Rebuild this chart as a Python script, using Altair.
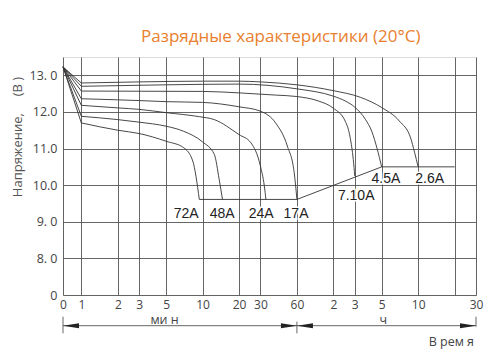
import altair as alt
import pandas as pd

# ---- data (time in minutes, voltage in V) ----
T0 = 0.706  # position of "0" on the log time axis

series_names = ["2.6A", "4.5A", "7.10A", "17A", "24A", "48A", "72A"]

t_26 = [0, 1, 3, 10, 20, 30, 60, 120, 200, 300, 420, 520, 560, 600]
v_26 = [13.23, 12.79, 12.82, 12.84, 12.84, 12.82, 12.74, 12.58, 12.40, 12.12, 11.75, 11.29, 10.90, 10.50]

t_45 = [0, 1, 5, 20, 60, 120, 150, 180, 220, 250, 275, 300]
v_45 = [13.23, 12.70, 12.74, 12.76, 12.63, 12.43, 12.30, 12.13, 11.80, 11.45, 11.00, 10.50]

t_71 = [0, 1, 10, 20, 40, 60, 90, 120, 150, 165, 175, 180]
v_71 = [13.23, 12.57, 12.56, 12.52, 12.46, 12.42, 12.30, 12.10, 11.75, 11.30, 10.70, 10.25]

t_17 = [0, 1, 2, 3, 5, 10, 20, 30, 40, 50, 57, 60]
v_17 = [13.23, 12.36, 12.33, 12.31, 12.28, 12.26, 12.14, 12.02, 11.70, 11.07, 10.34, 9.61]

t_24 = [0, 1, 2, 3, 5, 9.4, 12.5, 20, 25, 30, 32.3, 33.3]
v_24 = [13.23, 12.18, 12.11, 12.07, 11.98, 11.87, 11.79, 11.38, 11.16, 10.52, 9.98, 9.61]

t_48 = [0, 1, 2, 3, 5, 7, 10, 12.5, 13.7, 14.6]
v_48 = [13.23, 11.88, 11.79, 11.72, 11.61, 11.47, 11.18, 10.84, 10.16, 9.61]

t_72 = [0, 1, 2, 3, 5, 7, 8.3, 9.4]
v_72 = [13.23, 11.70, 11.50, 11.41, 11.20, 11.02, 10.66, 9.61]

cut_t = [9.4, 60, 300, 1200]
cut_v = [9.61, 9.61, 10.5, 10.5]

label_text = ["72A", "48A", "24A", "17A", "7.10A", "4.5A", "2.6A"]
label_t = [7.33, 14.5, 30.4, 59.0, 185, 325, 747]
label_v = [9.22, 9.22, 9.22, 9.22, 9.70, 10.17, 10.17]

x_ticks = [T0, 1, 2, 3, 5, 10, 20, 30, 60, 120, 180, 300, 600, 1200, 1800]
x_labels = ["0", "1", "2", "3", "5", "10", "20", "30", "60", "2", "3", "5", "10", "", "30"]
y_ticks = [7, 8, 9, 10, 11, 12, 13]
y_labels = ["0", "8. 0", "9. 0", "10.0", "11.0", "12.0", "13. 0"]

NB = "\u00a0"
title_text = "Разрядные характеристики (20°C)"
y_title = "Напряжение," + NB * 5 + "(В" + NB + ")"
unit_min = "ми" + NB + "н"
unit_h = "ч"
x_title = "В" + NB + "рем" + NB + "я"

# ---- tables ----
rows = []
for name, ts, vs in zip(series_names,
                        [t_26, t_45, t_71, t_17, t_24, t_48, t_72],
                        [v_26, v_45, v_71, v_17, v_24, v_48, v_72]):
    for t, v in zip(ts, vs):
        rows.append({"series": name, "t": t, "v": v})
curves_df = pd.DataFrame(rows)
cut_df = pd.DataFrame({"t": cut_t, "v": cut_v})
lab_df = pd.DataFrame({"label": label_text, "t": label_t, "v": label_v})

def arr(lst):
    return "[" + ",".join(repr(x) for x in lst) + "]"

x_expr = f"{arr(x_labels)}[indexof({arr(x_ticks)}, datum.value)]"
y_expr = f"{arr(y_labels)}[indexof({arr(y_ticks)}, datum.value)]"

GRID = "#555555"
LINE = "#333333"
LABEL_FONT = "Open Sans"

xscale = alt.Scale(type="log", domain=[T0, 1800])
yscale = alt.Scale(domain=[7, 13.5])
xaxis = alt.Axis(values=x_ticks, labelExpr=x_expr, title=None, grid=True,
                 gridColor=GRID, gridWidth=0.9, gridOpacity=1, domain=False,
                 ticks=False, tickSize=0, labelPadding=4, labelFont=LABEL_FONT,
                 labelFontSize=12, labelColor="#444444", labelOverlap=False,
                 labelFlush=False)
yaxis = alt.Axis(values=y_ticks, labelExpr=y_expr, title=None, grid=True,
                 gridColor=GRID, gridWidth=0.9, gridOpacity=1, domain=False,
                 ticks=False, tickSize=0, labelPadding=6, labelFont=LABEL_FONT,
                 labelFontSize=12.5, labelColor="#444444")

X = alt.X("pos:Q", scale=xscale, axis=xaxis)
Y = alt.Y("v:Q", scale=yscale, axis=yaxis)
POS = f"datum.t == 0 ? {T0} : datum.t"

# straight initial drop (0 -> 1 min), then smooth curve
start = alt.Chart(curves_df).transform_filter("datum.t <= 1").transform_calculate(pos=POS).mark_line(
    color=LINE, strokeWidth=0.9
).encode(x=X, y=Y, detail="series:N")
curves = alt.Chart(curves_df).transform_filter("datum.t >= 1").transform_calculate(pos=POS).mark_line(
    interpolate="monotone", color=LINE, strokeWidth=0.9
).encode(x=X, y=Y, detail="series:N")

cutoff = alt.Chart(cut_df).transform_calculate(pos=POS).mark_line(
    color=LINE, strokeWidth=0.9
).encode(x=X, y=Y)

halo = alt.Chart(lab_df).transform_calculate(pos=POS).mark_text(
    font="Liberation Sans", fontSize=14, stroke="white", strokeWidth=3,
    fill="white", align="center", baseline="middle"
).encode(x=X, y=Y, text="label:N")
labels = alt.Chart(lab_df).transform_calculate(pos=POS).mark_text(
    font="Liberation Sans", fontSize=14, color="#222222", align="center",
    baseline="middle"
).encode(x=X, y=Y, text="label:N")

# bottom time-span annotation
ticks_df = pd.DataFrame({"t": [0, 60, 1800], "y1": [259.7, 264.7, 259.7],
                         "y2": [276.3, 276.3, 269.7]})
vticks = alt.Chart(ticks_df).transform_calculate(pos=POS).mark_rule(
    color="#555555", strokeWidth=0.9
).encode(x=X, y=alt.Y("y1:Q", scale=None), y2="y2:Q")

span_df = pd.DataFrame({"t": [0], "t2": [1800]})
span = alt.Chart(span_df).transform_calculate(pos=POS, pos2="datum.t2").mark_rule(
    color="#555555", strokeWidth=0.9
).encode(x=X, x2="pos2:Q", y=alt.value(268.7))

left_df = pd.DataFrame({"t": [0, 60]})
right_df = pd.DataFrame({"t": [60, 1800]})
left_heads = alt.Chart(left_df).transform_calculate(pos=POS).mark_point(
    shape="M0,0 L2,-0.32 L2,0.32 Z", size=256, filled=True, color="#222222", opacity=1
).encode(x=X, y=alt.value(268.7))
right_heads = alt.Chart(right_df).transform_calculate(pos=POS).mark_point(
    shape="M0,0 L-2,-0.32 L-2,0.32 Z", size=256, filled=True, color="#222222", opacity=1
).encode(x=X, y=alt.value(268.7))

unit_df = pd.DataFrame({"label": [unit_min, unit_h], "t": [4.86, 309]})
units = alt.Chart(unit_df).transform_calculate(pos=POS).mark_text(
    font=LABEL_FONT, fontSize=12.5, color="#444444", align="center", baseline="middle"
).encode(x=X, y=alt.value(263), text="label:N")

xt_df = pd.DataFrame({"label": [x_title], "t": [1800]})
xtitle = alt.Chart(xt_df).transform_calculate(pos=POS).mark_text(
    font=LABEL_FONT, fontSize=12.5, color="#444444", align="right", baseline="middle", dx=-2
).encode(x=X, y=alt.value(284.7), text="label:N")

one = pd.DataFrame({"label": [title_text]})
title = alt.Chart(one).mark_text(
    font=LABEL_FONT, fontSize=17, color="#E8802F", align="center", baseline="alphabetic"
).encode(x=alt.value(217.7), y=alt.value(-15.3), text="label:N")

yt = pd.DataFrame({"label": [y_title]})
ytitle = alt.Chart(yt).mark_text(
    font=LABEL_FONT, fontSize=13, color="#555555", align="center", baseline="middle", angle=270
).encode(x=alt.value(-44.7), y=alt.value(80), text="label:N")

chart = alt.layer(
    start, curves, cutoff, halo, labels, vticks, span, left_heads, right_heads,
    units, xtitle, title, ytitle
).properties(
    width=413, height=238,
    autosize=alt.AutoSizeParams(type="none"),
    padding={"left": 63, "top": 57, "right": 16, "bottom": 66},
).configure_view(stroke=GRID, strokeWidth=0.9).configure(background="white")

chart.save("out.html", embed_options={"renderer": "svg", "actions": False})
